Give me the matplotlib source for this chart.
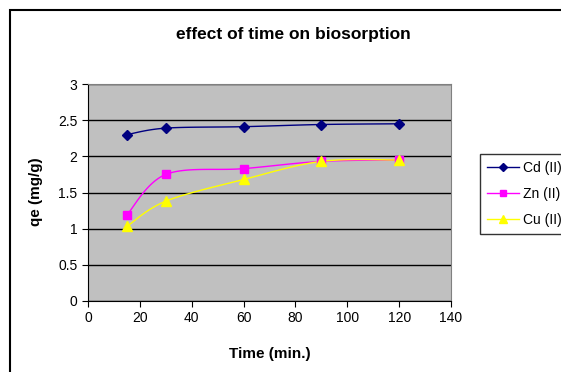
import matplotlib
matplotlib.use("Agg")
import matplotlib.pyplot as plt
from matplotlib.lines import Line2D
from matplotlib.patches import Rectangle
import numpy as np

# Data ------------------------------------------------------
time_min = [15, 30, 60, 90, 120]
cd_qe = [2.30, 2.39, 2.41, 2.44, 2.45]
zn_qe = [1.19, 1.75, 1.83, 1.93, 1.95]
cu_qe = [1.03, 1.38, 1.68, 1.93, 1.95]

series_labels = ["Cd (II)", "Zn (II)", "Cu (II)"]
series_colors = ["#000080", "#FF00FF", "#FFFF00"]
series_markers = ["D", "s", "^"]
marker_sizes = [5, 6, 7]

title = "effect of time on biosorption"
xlabel = "Time (min.)"
ylabel = "qe (mg/g)"

plt.rcParams["font.family"] = ["Liberation Sans", "DejaVu Sans"]


def smooth(x, y, n=30, t=1.0 / 6):
    # excel-ish smoothed line: catmull-rom as cubic bezier segments
    x = np.asarray(x, float)
    y = np.asarray(y, float)
    px = np.concatenate([[x[0]], x, [x[-1]]])
    py = np.concatenate([[y[0]], y, [y[-1]]])
    xs, ys = [], []
    s = np.linspace(0, 1, n)
    for i in range(1, len(x)):
        p0 = np.array([px[i], py[i]])
        p3 = np.array([px[i + 1], py[i + 1]])
        p1 = p0 + t * (p3 - np.array([px[i - 1], py[i - 1]]))
        p2 = p3 - t * (np.array([px[i + 2], py[i + 2]]) - p0)
        b = ((1 - s) ** 3)[:, None] * p0 + (3 * (1 - s) ** 2 * s)[:, None] * p1 \
            + (3 * (1 - s) * s ** 2)[:, None] * p2 + (s ** 3)[:, None] * p3
        xs.extend(b[:, 0])
        ys.extend(b[:, 1])
    return xs, ys


W, H = 561, 372
fig = plt.figure(figsize=(W / 100, H / 100), dpi=100)
fig.patches.append(Rectangle((10 / W, -0.1), 1.2, 1 - 10 / H + 0.1,
                             transform=fig.transFigure, fill=False,
                             edgecolor="black", linewidth=1.5))

ax = fig.add_axes([88 / W, 71 / H, 363 / W, 217 / H])
ax.set_facecolor("#C0C0C0")

for yv, col, mk, ms in zip([cd_qe, zn_qe, cu_qe], series_colors, series_markers, marker_sizes):
    sx, sy = smooth(time_min, yv)
    ax.plot(sx, sy, color=col, linewidth=1, zorder=3)
    ax.plot(time_min, yv, linestyle="none", marker=mk, color=col, markersize=ms, zorder=4)

ax.set_xlim(0, 140)
ax.set_ylim(0, 3)
ax.set_xticks(range(0, 141, 20))
ax.set_yticks(np.arange(0, 3.01, 0.5))
ax.set_yticklabels(["0", "0.5", "1", "1.5", "2", "2.5", "3"])
ax.yaxis.grid(True, color="black", linewidth=1)
ax.set_axisbelow(True)
for side in ["top", "right"]:
    ax.spines[side].set_color("#808080")
for side in ["left", "bottom"]:
    ax.spines[side].set_color("black")
ax.tick_params(labelsize=10, length=4, direction="out")

fig.text(293 / W, 1 - 35 / H, title, fontsize=12.5, fontweight="bold",
         ha="center", va="center")
fig.text(270 / W, 1 - 354 / H, xlabel, fontsize=11, fontweight="bold",
         ha="center", va="center")
fig.text(36 / W, 1 - 192 / H, ylabel, fontsize=11, fontweight="bold",
         ha="center", va="center", rotation=90)

handles = [Line2D([], [], color=c, marker=m, markersize=ms * 0.8, linewidth=1)
           for c, m, ms in zip(series_colors, series_markers, marker_sizes)]
leg = fig.legend(handles, series_labels, loc="upper left",
                 bbox_to_anchor=(480 / W, 1 - 154 / H), borderaxespad=0,
                 fontsize=10, frameon=True, fancybox=False, edgecolor="black",
                 handlelength=2.3, borderpad=0.5, labelspacing=0.85,
                 handletextpad=0.3)
leg.get_frame().set_linewidth(1)

fig.savefig("out.png", dpi=100)
